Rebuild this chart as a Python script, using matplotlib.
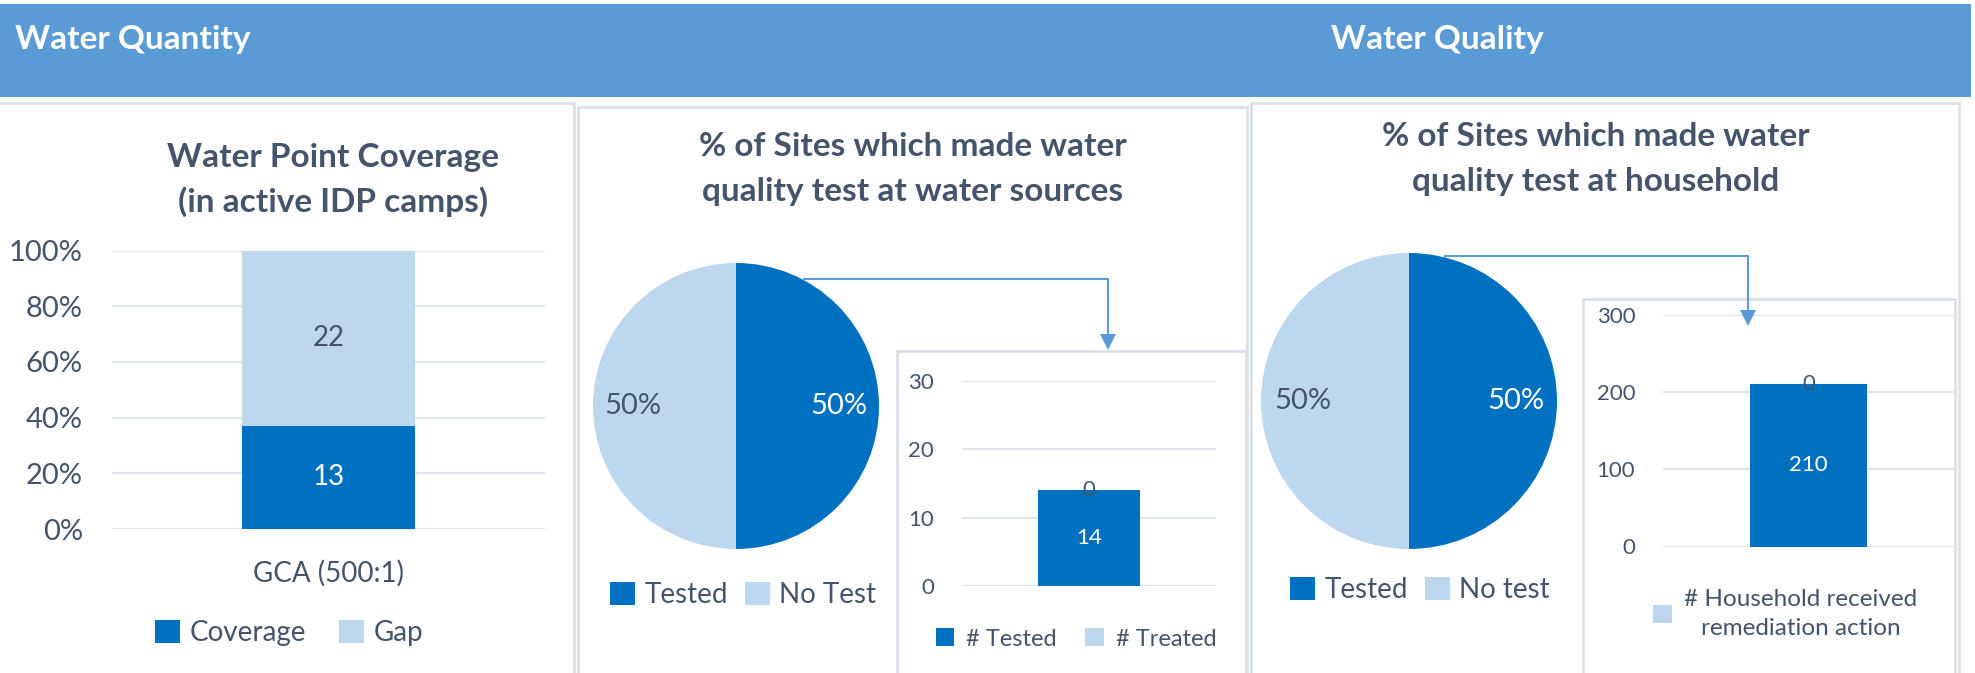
import matplotlib
matplotlib.use("Agg")
import matplotlib.pyplot as plt
from matplotlib.patches import Rectangle
from matplotlib.lines import Line2D
import numpy as np

# ---- data ----
cov_cats = ['GCA (500:1)']
coverage = [13]
gap = [22]

src_pie_labels = ['Tested', 'No Test']
src_pie_vals = [50, 50]
src_tested = [14]
src_treated = [0]

hh_pie_labels = ['Tested', 'No test']
hh_pie_vals = [50, 50]
hh_tested = [210]
hh_remediated = [0]

# ---- style ----
DARK = '#0070C0'
LIGHT = '#BDD7EE'
BANNER = '#5B9BD5'
TXT = '#44546A'
GRID = '#E1E5EB'
BORDER = '#DCE1E8'
FONT = 'Lato'

W, H = 1975, 673
plt.rcParams['font.family'] = [FONT, 'DejaVu Sans']

fig = plt.figure(figsize=(W / 100, H / 100), dpi=100)


def box(x0, y0, x1, y1):
    # pixel box (top-left origin) -> figure fraction rect
    return [x0 / W, 1 - y1 / H, (x1 - x0) / W, (y1 - y0) / H]


def fx(x):
    return x / W


def fy(y):
    return 1 - y / H


def style_axes(ax, size):
    for s in ax.spines.values():
        s.set_visible(False)
    ax.tick_params(length=0, labelsize=size, labelcolor=TXT)
    ax.yaxis.grid(True, color=GRID, lw=1.6)
    ax.set_axisbelow(True)


# ---- banner ----
fig.add_artist(Rectangle((0, fy(97)), fx(1971), (97 - 4) / H,
                         transform=fig.transFigure, color=BANNER, lw=0))
fig.text(fx(15), fy(39), 'Water Quantity', color='white', fontsize=24,
         fontweight='bold', va='center', ha='left')
fig.text(fx(1331), fy(39), 'Water Quality', color='white', fontsize=24,
         fontweight='bold', va='center', ha='left')

# panel borders
for x0, y0, x1 in [(-3, 103, 574), (578, 107, 1247), (1251, 103, 1959)]:
    fig.add_artist(Rectangle((fx(x0), fy(690)), (x1 - x0) / W, (690 - y0) / H,
                             transform=fig.transFigure, fill=False,
                             ec=BORDER, lw=2))

# ---- panel 1: water point coverage ----
fig.text(fx(333), fy(157), 'Water Point Coverage', color=TXT, fontsize=24,
         fontweight='bold', ha='center', va='center')
fig.text(fx(333), fy(202), '(in active IDP camps)', color=TXT, fontsize=24,
         fontweight='bold', ha='center', va='center')

ax1 = fig.add_axes(box(112, 250.5, 545, 529))
style_axes(ax1, 21)
tot = np.array(coverage) + np.array(gap)
cov_p = np.array(coverage) / tot
gap_p = np.array(gap) / tot
xpos = np.arange(len(cov_cats))
b1 = ax1.bar(xpos, cov_p, width=0.40, color=DARK, label='Coverage')
b2 = ax1.bar(xpos, gap_p, width=0.40, bottom=cov_p, color=LIGHT, label='Gap')
ax1.bar_label(b1, labels=[str(v) for v in coverage], label_type='center',
              color='white', fontsize=20)
ax1.bar_label(b2, labels=[str(v) for v in gap], label_type='center',
              color=TXT, fontsize=20)
ax1.set_xlim(-0.5, 0.5)
ax1.set_ylim(0, 1)
ax1.set_yticks(np.linspace(0, 1, 6), [f'{int(v)}%' for v in np.linspace(0, 100, 6)])
ax1.set_xticks(xpos, cov_cats)
ax1.tick_params(axis='x', pad=22, labelsize=20)
ax1.tick_params(axis='y', pad=21)
ax1.legend(loc='center', bbox_to_anchor=(fx(289), fy(633)),
           bbox_transform=fig.transFigure, ncol=2, frameon=False,
           fontsize=20, labelcolor=TXT, handlelength=0.9, handleheight=0.9,
           handletextpad=0.35, columnspacing=1.2)


def pie_panel(cx, cy, r, title1, title2, tcx, ty, labels, vals, leg_xy):
    fig.text(fx(tcx), fy(ty), title1, color=TXT, fontsize=24,
             fontweight='bold', ha='center', va='center')
    fig.text(fx(tcx), fy(ty + 45), title2, color=TXT, fontsize=24,
             fontweight='bold', ha='center', va='center')
    ax = fig.add_axes(box(cx - r, cy - r, cx + r, cy + r))
    wedges, _, autos = ax.pie(vals, colors=[DARK, LIGHT], startangle=90,
                              counterclock=False, autopct='%1.0f%%',
                              pctdistance=0.72, labels=None,
                              textprops=dict(fontsize=21))
    autos[0].set_color('white')
    autos[1].set_color(TXT)
    ax.set_xlim(-1, 1)
    ax.set_ylim(-1, 1)
    ax.legend(wedges, labels, loc='center', bbox_to_anchor=(fx(leg_xy[0]), fy(leg_xy[1])),
              bbox_transform=fig.transFigure, ncol=2, frameon=False,
              fontsize=20, labelcolor=TXT, handlelength=0.9, handleheight=0.9,
              handletextpad=0.35, columnspacing=0.6)
    return ax


def connector(x0, y0, x1, y1):
    fig.add_artist(Line2D([fx(x0), fx(x1), fx(x1)], [fy(y0), fy(y0), fy(y1 - 14)],
                          transform=fig.transFigure, color=BANNER, lw=1.5))
    fig.add_artist(plt.Polygon([[fx(x1 - 8), fy(y1 - 16)], [fx(x1 + 8), fy(y1 - 16)],
                                [fx(x1), fy(y1)]], closed=True,
                               transform=fig.transFigure, color=BANNER, lw=0))


def inset_bar(box_px, ax_px, ymax, step, first, second, first_lab, second_lab,
              leg_xy, leg_handles, ncol, leg_size):
    x0, y0, x1 = box_px
    fig.add_artist(Rectangle((fx(x0), fy(690)), (x1 - x0) / W, (690 - y0) / H,
                             transform=fig.transFigure, fill=False, ec=BORDER, lw=2))
    ax = fig.add_axes(box(*ax_px))
    style_axes(ax, 16)
    xp = np.arange(len(first))
    ba = ax.bar(xp, first, width=0.40, color=DARK, label=first_lab)
    bb = ax.bar(xp, second, width=0.40, bottom=first, color=LIGHT, label=second_lab)
    ax.bar_label(ba, label_type='center', color='white', fontsize=16)
    ax.bar_label(bb, label_type='center', color=TXT, fontsize=16)
    ax.set_xlim(-0.5, 0.5)
    ax.set_ylim(0, ymax)
    ax.set_yticks(np.arange(0, ymax + 1, step))
    ax.set_xticks([])
    ax.tick_params(axis='y', pad=20)
    hs = [ba, bb][leg_handles]
    labs = [first_lab, second_lab][leg_handles]
    leg = ax.legend(hs, labs, loc='center', bbox_to_anchor=(fx(leg_xy[0]), fy(leg_xy[1])),
                    bbox_transform=fig.transFigure, ncol=ncol, frameon=False,
                    fontsize=leg_size, labelcolor=TXT, handlelength=0.8,
                    handleheight=0.8, handletextpad=0.5, columnspacing=1.2)
    for t in leg.get_texts():
        t.set_multialignment('center')
        t.set_linespacing(1.45)
    return ax


# ---- panel 2: tests at water sources ----
pie_panel(736, 406, 143, '% of Sites which made water',
          'quality test at water sources', 913, 146,
          src_pie_labels, src_pie_vals, (743, 595))
connector(804, 279, 1108, 350)
inset_bar((897, 351, 1246), (962, 381, 1216, 586), 30, 10,
          src_tested, src_treated, '# Tested', '# Treated',
          (1076, 639), slice(0, 2), 2, 17)

# ---- panel 3: tests at household ----
pie_panel(1409, 401, 148, '% of Sites which made water',
          'quality test at household', 1596, 137,
          hh_pie_labels, hh_pie_vals, (1420, 590))
connector(1445, 256, 1748, 326)
inset_bar((1583, 299, 1955), (1663, 315, 1954, 546.5), 300, 100,
          hh_tested, hh_remediated, '',
          '# Household received\nremediation action',
          (1785, 614), slice(1, 2), 1, 17.5)

fig.savefig('out.png', dpi=100)
